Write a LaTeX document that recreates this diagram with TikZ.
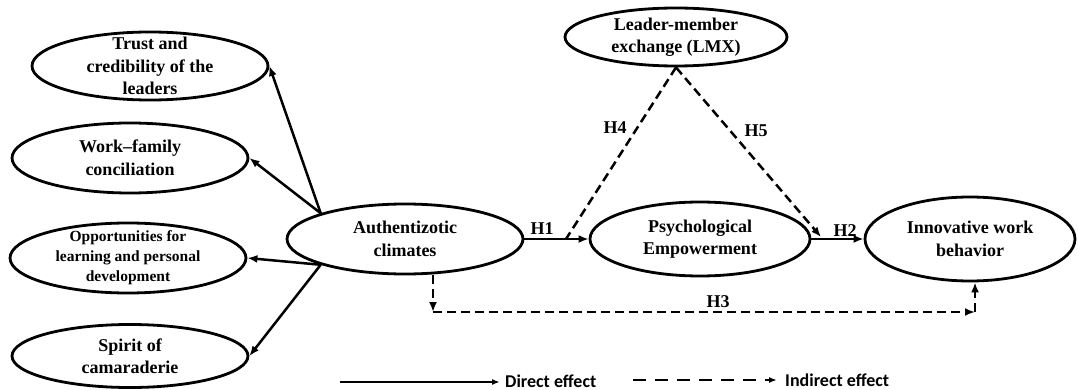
\documentclass[tikz,border=0pt]{standalone}
\usepackage{fontspec}
\setmainfont{Liberation Serif}
\newfontfamily\legendfont{Carlito}
\usetikzlibrary{shapes.geometric,arrows.meta}
\begin{document}
\begin{tikzpicture}[x=1pt,y=-1pt,
  latent/.style={draw, ellipse, line width=2.8pt, inner xsep=0pt, inner ysep=-25pt, align=center,
    font=\fontsize{18}{22.5}\selectfont\bfseries},
  direct/.style={line width=2.5pt, -{Latex[length=10pt,width=8pt]}},
  indirect/.style={direct, dash pattern=on 9pt off 5pt},
  plaindash/.style={line width=2.5pt, dash pattern=on 9pt off 5pt},
  hlab/.style={font=\fontsize{18}{20}\selectfont\bfseries, inner sep=0pt},
  legtext/.style={anchor=west, inner sep=0pt, font=\legendfont\fontsize{18}{20}\selectfont\bfseries}]
\useasboundingbox (0,0) rectangle (1078,390);

% latent constructs
\node[latent, minimum width=236pt, minimum height=68pt] (trust) at (150,66) {Trust and\\credibility of the\\leaders};
\node[latent, minimum width=236pt, minimum height=70pt] (wf) at (130,158) {Work--family\\conciliation};
\node[latent, minimum width=236pt, minimum height=70pt, font=\fontsize{15.5}{20}\selectfont\bfseries] (opp) at (128,258) {Opportunities for\\learning and personal\\development};
\node[latent, minimum width=236pt, minimum height=63pt] (spirit) at (130,356) {Spirit of\\camaraderie};
\node[latent, minimum width=236pt, minimum height=70pt] (auth) at (405,239) {Authentizotic\\climates};
\node[latent, minimum width=220pt, minimum height=74pt] (psy) at (700,239) {Psychological\\Empowerment};
\node[latent, minimum width=210pt, minimum height=84pt] (iwb) at (970,239) {Innovative work\\behavior};
\node[latent, minimum width=222pt, minimum height=58pt] (lmx) at (676,37) {Leader-member\\exchange (LMX)};

% dimensions of authentizotic climates
\draw[direct] (auth.163) -- (trust.east);
\draw[direct] (auth.163) -- (wf.east);
\draw[direct] (auth.197) -- (opp.east);
\draw[direct] (auth.197) -- (spirit.east);

% hypotheses
\draw[direct] (auth.east) -- (psy.west);
\draw[direct] (psy.east) -- (iwb.west);
\coordinate (h4end) at (566,239);
\coordinate (h5end) at (821,237);
\draw[plaindash] (lmx.south) -- (h4end);
\draw[indirect] (lmx.south) -- (h5end);

\coordinate (h3a) at (433,312);
\coordinate (h3b) at (975,312);
\draw[indirect] (auth.south -| h3a) -- (h3a);
\draw[indirect] (h3a) -- (h3b);
\draw[indirect] (h3b) -- (iwb.south -| h3b);

\node[hlab] (h1) at (542,229) {H1};
\node[hlab] (h2) at (845,231) {H2};
\node[hlab] (h3) at (718,302) {H3};
\node[hlab] (h4) at (615,128) {H4};
\node[hlab] (h5) at (756,131) {H5};

% legend
\coordinate (da) at (340,382);
\coordinate (db) at (500,382);
\draw[line width=2pt, -{Latex[length=8pt,width=6pt]}] (da) -- (db);
\node[legtext] (dl) at (505,381) {Direct effect};
\coordinate (ia) at (633,380);
\coordinate (ib) at (777,380);
\draw[line width=2pt, dash pattern=on 13pt off 9pt, -{Latex[length=8pt,width=6pt]}] (ia) -- (ib);
\node[legtext] (il) at (785,380) {Indirect effect};
\end{tikzpicture}
\end{document}
